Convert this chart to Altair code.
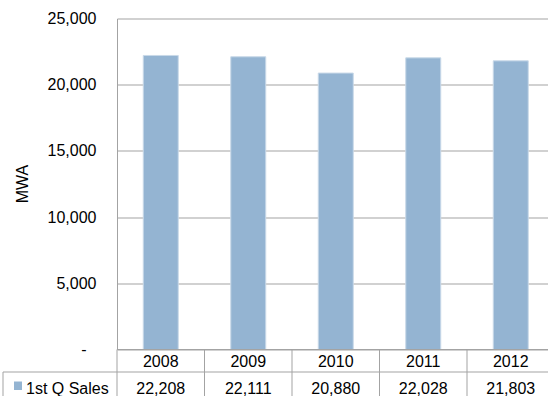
import altair as alt
import pandas as pd

years = ["2008", "2009", "2010", "2011", "2012"]
sales = [22208, 22111, 20880, 22028, 21803]
series_name = "1st Q Sales"
y_title = "MWA"
y_ticks = [0, 5000, 10000, 15000, 20000, 25000]

df = pd.DataFrame({"year": years, "sales": sales})

FONT = "Liberation Sans"
BAR = "#94B4D2"
LINE = "#A3A3A3"

xscale = alt.Scale(domain=years, range=[0, 437.5], paddingInner=0, paddingOuter=0)
yscale = alt.Scale(domain=[0, 25000], nice=False)

base = alt.Chart(df)

bars = base.mark_bar(size=35, color=BAR, stroke="#C9D9E8", strokeWidth=1).encode(
    x=alt.X("year:N", scale=xscale, axis=None, sort=years),
    y=alt.Y(
        "sales:Q",
        scale=yscale,
        axis=alt.Axis(
            values=y_ticks,
            grid=True,
            gridColor=LINE,
            gridWidth=1,
            domain=True,
            domainColor=LINE,
            ticks=False,
            labelPadding=21,
            labelFont=FONT,
            labelFontSize=16,
            labelColor="black",
            title=None,
            labelExpr="datum.value == 0 ? '' : format(datum.value, ',')",
        ),
    ),
)

# table vertical lines at band starts
vlines = base.mark_rule(color=LINE, strokeWidth=1).encode(
    x=alt.X("year:N", scale=xscale, bandPosition=0, sort=years),
    y=alt.value(331),
    y2=alt.value(378),
)

zero_line = alt.Chart(pd.DataFrame({"v": [0]})).mark_rule(color=LINE, strokeWidth=1).encode(
    x=alt.value(0), x2=alt.value(437.5), y=alt.value(331)
)
row_line = alt.Chart(pd.DataFrame({"v": [0]})).mark_rule(color=LINE, strokeWidth=1).encode(
    x=alt.value(-114), x2=alt.value(437.5), y=alt.value(353.5)
)
left_border = alt.Chart(pd.DataFrame({"v": [0]})).mark_rule(color=LINE, strokeWidth=1).encode(
    x=alt.value(-114), y=alt.value(353.5), y2=alt.value(378)
)

year_text = base.mark_text(font=FONT, fontSize=16, color="black", baseline="alphabetic").encode(
    x=alt.X("year:N", scale=xscale, sort=years),
    y=alt.value(348.5),
    text="year:N",
)
value_text = base.mark_text(font=FONT, fontSize=16, color="black", baseline="alphabetic").encode(
    x=alt.X("year:N", scale=xscale, sort=years),
    y=alt.value(375),
    text=alt.Text("sales:Q", format=","),
)

label_df = pd.DataFrame({"t": [series_name]})
series_label = alt.Chart(label_df).mark_text(
    font=FONT, fontSize=16, color="black", align="left", baseline="alphabetic"
).encode(x=alt.value(-91), y=alt.value(375), text="t:N")

swatch = alt.Chart(label_df).mark_rect(color=BAR).encode(
    x=alt.value(-103), x2=alt.value(-95), y=alt.value(363), y2=alt.value(371.5)
)

zero_label = alt.Chart(pd.DataFrame({"t": ["-"], "v": [0]})).mark_text(
    font=FONT, fontSize=16, color="black", align="center", baseline="middle"
).encode(x=alt.value(-33), y=alt.Y("v:Q", scale=yscale), text="t:N")

ytitle = alt.Chart(pd.DataFrame({"t": [y_title]})).mark_text(
    font=FONT, fontSize=16, color="black", angle=270, align="center", baseline="middle"
).encode(x=alt.value(-94.5), y=alt.value(165.5), text="t:N")

chart = alt.layer(
    bars, zero_line, vlines, row_line, left_border, year_text, value_text,
    series_label, swatch, zero_label, ytitle
).properties(
    width=431,
    height=331,
    autosize=alt.AutoSizeParams(type="none"),
    padding={"left": 117, "top": 18.5, "right": 0, "bottom": 46.5},
    background="white",
).configure_view(strokeWidth=0)

chart.save("out.html", embed_options={"renderer": "svg", "actions": False})
